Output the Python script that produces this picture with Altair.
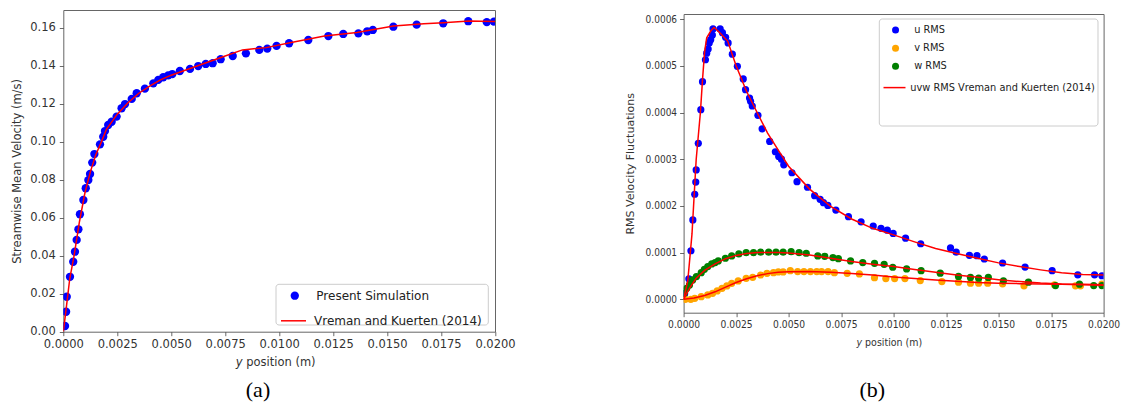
import altair as alt
import pandas as pd

# ---------------- (a) streamwise mean velocity ----------------
sim_pos = [0.00008, 0.00013, 0.00016, 0.00031, 0.00046, 0.00054, 0.00062, 0.00070, 0.00077, 0.00093,
           0.00104, 0.00116, 0.00124, 0.00134, 0.00144, 0.00170, 0.00185, 0.00193, 0.00208, 0.00224,
           0.00247, 0.00270, 0.00286, 0.00317, 0.00340, 0.00378, 0.00417, 0.00440, 0.00463, 0.00486,
           0.00505, 0.00540, 0.00587, 0.00625, 0.00660, 0.00692, 0.00729, 0.00785, 0.00846, 0.00908,
           0.00945, 0.00988, 0.01046, 0.01135, 0.01228, 0.01297, 0.01367, 0.01408, 0.01434, 0.01529,
           0.01637, 0.01760, 0.01876, 0.01962, 0.01995]
sim_vel = [0.0030, 0.0105, 0.0184, 0.0289, 0.0368, 0.0421, 0.0483, 0.0539, 0.0618, 0.0693,
           0.0755, 0.0798, 0.0830, 0.0890, 0.0935, 0.0986, 0.1026, 0.1056, 0.1088, 0.1105,
           0.1132, 0.1176, 0.1198, 0.1225, 0.1255, 0.1279, 0.1307, 0.1325, 0.1339, 0.1349,
           0.1356, 0.1372, 0.1383, 0.1398, 0.1409, 0.1413, 0.1434, 0.1451, 0.1465, 0.1483,
           0.1490, 0.1504, 0.1518, 0.1535, 0.1556, 0.1567, 0.1570, 0.1581, 0.1588, 0.1605,
           0.1616, 0.1623, 0.1634, 0.1629, 0.1632]

vk_pos = [0.0, 0.0001, 0.0003, 0.0005, 0.00075, 0.0010, 0.00125, 0.0015, 0.00175, 0.0020,
          0.0025, 0.0030, 0.0035, 0.0040, 0.0045, 0.0050, 0.0060, 0.0074, 0.0083, 0.0094,
          0.0105, 0.0121, 0.0136, 0.0153, 0.0167, 0.0176, 0.0188, 0.0200]
vk_vel = [0.0, 0.0090, 0.0280, 0.0400, 0.0580, 0.0730, 0.0840, 0.0930, 0.0995, 0.1065,
          0.1145, 0.1205, 0.1255, 0.1292, 0.1325, 0.1350, 0.1390, 0.1447, 0.1483, 0.1495,
          0.1521, 0.1556, 0.1574, 0.1609, 0.1620, 0.1626, 0.1635, 0.1632]

# ---------------- (b) RMS velocity fluctuations ----------------
u_pos = [0.00005, 0.00025, 0.00035, 0.00044, 0.00053, 0.00058, 0.00060, 0.00070, 0.00082, 0.00090,
         0.00104, 0.00110, 0.00117, 0.00122, 0.00129, 0.00137, 0.00140, 0.00174, 0.00185, 0.00200,
         0.00212, 0.00232, 0.00256, 0.00284, 0.00295, 0.00314, 0.00319, 0.00327, 0.00354, 0.00374,
         0.00410, 0.00437, 0.00453, 0.00466, 0.00477, 0.00516, 0.00540, 0.00590, 0.00624, 0.00650,
         0.00666, 0.00687, 0.00725, 0.00785, 0.00845, 0.00903, 0.00940, 0.00970, 0.00998, 0.01057,
         0.01129, 0.01271, 0.01298, 0.01361, 0.01397, 0.01432, 0.01519, 0.01626, 0.01755, 0.01877,
         0.01957, 0.01992]
u_rms = [0.000012, 0.000044, 0.000104, 0.000170, 0.000225, 0.000251, 0.000277, 0.000334, 0.000406, 0.000466,
         0.000513, 0.000527, 0.000536, 0.000549, 0.000556, 0.000566, 0.000579, 0.000579, 0.000571, 0.000561,
         0.000549, 0.000525, 0.000499, 0.000472, 0.000449, 0.000431, 0.000424, 0.000414, 0.000394, 0.000365,
         0.000338, 0.000316, 0.000306, 0.000300, 0.000288, 0.000271, 0.000252, 0.000240, 0.000222, 0.000214,
         0.000207, 0.000201, 0.000191, 0.000177, 0.000166, 0.000157, 0.000152, 0.000148, 0.000141, 0.000131,
         0.000119, 0.000110, 0.000101, 0.0000942, 0.0000935, 0.0000863, 0.0000777, 0.0000691, 0.0000612, 0.0000525,
         0.0000525, 0.0000504]

v_pos = [0.00008, 0.00034, 0.00053, 0.00084, 0.00115, 0.00138, 0.00160, 0.00183, 0.00206, 0.00229,
         0.00260, 0.00298, 0.00329, 0.00367, 0.00397, 0.00428, 0.00451, 0.00474, 0.00508, 0.00543,
         0.00573, 0.00604, 0.00634, 0.00657, 0.00688, 0.00718, 0.00779, 0.00837, 0.00909, 0.00963,
         0.01005, 0.01054, 0.01127, 0.01230, 0.01309, 0.01366, 0.01405, 0.01448, 0.01519, 0.01621,
         0.01766, 0.01866, 0.01890, 0.01992]
v_rms = [0.0, 0.0, 0.0000020, 0.0000057, 0.0000093, 0.0000129, 0.0000179, 0.0000236, 0.0000286, 0.0000343,
         0.0000393, 0.0000450, 0.0000471, 0.0000520, 0.0000557, 0.0000571, 0.0000586, 0.0000586, 0.0000614, 0.0000593,
         0.0000593, 0.0000593, 0.0000593, 0.0000593, 0.0000593, 0.0000571, 0.0000557, 0.0000543, 0.0000464, 0.0000443,
         0.0000443, 0.0000443, 0.0000400, 0.0000379, 0.0000367, 0.0000345, 0.0000345, 0.0000345, 0.0000331, 0.0000288,
         0.0000309, 0.0000288, 0.0000288, 0.0000324]

w_pos = [0.00003, 0.00015, 0.00028, 0.00043, 0.00061, 0.00084, 0.00099, 0.00115, 0.00134, 0.00150,
         0.00165, 0.00199, 0.00229, 0.00263, 0.00298, 0.00333, 0.00367, 0.00405, 0.00440, 0.00474,
         0.00512, 0.00550, 0.00584, 0.00639, 0.00672, 0.00711, 0.00737, 0.00795, 0.00853, 0.00909,
         0.00955, 0.00996, 0.01062, 0.01131, 0.01222, 0.01309, 0.01366, 0.01405, 0.01451, 0.01523,
         0.01642, 0.01771, 0.01885, 0.01953, 0.01992]
w_rms = [0.0000129, 0.0000236, 0.0000307, 0.0000414, 0.0000486, 0.0000571, 0.0000643, 0.0000700, 0.0000757, 0.0000786,
         0.0000821, 0.0000879, 0.0000929, 0.0000971, 0.0001000, 0.0001000, 0.0001010, 0.0001010, 0.0001010, 0.0001010,
         0.0001020, 0.0001000, 0.0000986, 0.0000929, 0.0000921, 0.0000893, 0.0000871, 0.0000821, 0.0000786, 0.0000771,
         0.0000750, 0.0000686, 0.0000650, 0.0000614, 0.0000560, 0.0000489, 0.0000468, 0.0000453, 0.0000468, 0.0000396,
         0.0000367, 0.0000295, 0.0000324, 0.0000295, 0.0000295]

ref_u_pos = [0.0, 0.0002, 0.0004, 0.0005, 0.0006, 0.0008, 0.0009, 0.0010, 0.0011, 0.0013,
             0.00145, 0.0017, 0.0021, 0.0025, 0.0030, 0.0035, 0.0040, 0.0045, 0.0050, 0.0060,
             0.0070, 0.0080, 0.0090, 0.0100, 0.0110, 0.0120, 0.0130, 0.0140, 0.0150, 0.0160,
             0.0170, 0.0180, 0.0190, 0.0200]
ref_u_rms = [0.0, 0.000040, 0.000140, 0.000220, 0.000300, 0.000400, 0.000470, 0.000530, 0.000560, 0.000575,
             0.000582, 0.000572, 0.000553, 0.000500, 0.000445, 0.000400, 0.000356, 0.000320, 0.000285, 0.000236,
             0.000199, 0.000172, 0.000152, 0.000138, 0.000123, 0.000109, 0.000098, 0.000088, 0.000078, 0.000070,
             0.000063, 0.000057, 0.000053, 0.000052]

ref_v_pos = [0.0, 0.0005, 0.0010, 0.0015, 0.0020, 0.0025, 0.0030, 0.0035, 0.0040, 0.0045,
             0.0050, 0.0060, 0.0070, 0.0080, 0.0090, 0.0100, 0.0110, 0.0120, 0.0130, 0.0140,
             0.0150, 0.0160, 0.0170, 0.0180, 0.0190, 0.0200]
ref_v_rms = [0.0, 0.0000030, 0.0000080, 0.0000160, 0.0000260, 0.0000360, 0.0000440, 0.0000505, 0.0000550, 0.0000578,
             0.0000590, 0.0000595, 0.0000580, 0.0000555, 0.0000520, 0.0000480, 0.0000445, 0.0000415, 0.0000385, 0.0000360,
             0.0000345, 0.0000335, 0.0000325, 0.0000320, 0.0000310, 0.0000300]

ref_w_pos = [0.0, 0.0003, 0.0006, 0.0010, 0.0015, 0.0020, 0.0025, 0.0030, 0.0035, 0.0040,
             0.0045, 0.0050, 0.0060, 0.0070, 0.0080, 0.0090, 0.0100, 0.0110, 0.0120, 0.0130,
             0.0140, 0.0150, 0.0160, 0.0170, 0.0180, 0.0190, 0.0200]
ref_w_rms = [0.0, 0.000025, 0.000045, 0.000062, 0.000076, 0.000087, 0.000094, 0.000098, 0.000100, 0.000100,
             0.000100, 0.000099, 0.000095, 0.000088, 0.000081, 0.000075, 0.000070, 0.000064, 0.000058, 0.000052,
             0.000047, 0.000042, 0.000038, 0.000035, 0.000033, 0.000032, 0.000031]

X_TICKS = [0.0, 0.0025, 0.005, 0.0075, 0.01, 0.0125, 0.015, 0.0175, 0.02]
VEL_TICKS = [0.0, 0.02, 0.04, 0.06, 0.08, 0.10, 0.12, 0.14, 0.16]
RMS_TICKS = [0.0, 0.0001, 0.0002, 0.0003, 0.0004, 0.0005, 0.0006]

SIM_LABEL = "Present Simulation"
VK_LABEL = "Vreman and Kuerten (2014)"
RMS_LABELS = ["u RMS", "v RMS", "w RMS"]
RMS_REF_LABEL = "uvw RMS Vreman and Kuerten (2014)"

SANS = "DejaVu Sans"
NARROW = "DejaVu Sans Condensed, Liberation Sans Narrow, DejaVu Sans"
SERIF = "Liberation Serif, Times New Roman, serif"

# ---------------- tables ----------------
left_pts = pd.DataFrame({"pos": sim_pos, "vel": sim_vel, "series": SIM_LABEL})
left_ref = pd.DataFrame({"pos": vk_pos, "vel": vk_vel, "series": VK_LABEL})

right_pts = pd.concat([
    pd.DataFrame({"pos": u_pos, "rms": u_rms, "series": RMS_LABELS[0]}),
    pd.DataFrame({"pos": v_pos, "rms": v_rms, "series": RMS_LABELS[1]}),
    pd.DataFrame({"pos": w_pos, "rms": w_rms, "series": RMS_LABELS[2]}),
], ignore_index=True)
right_ref = pd.concat([
    pd.DataFrame({"pos": ref_u_pos, "rms": ref_u_rms, "comp": "u"}),
    pd.DataFrame({"pos": ref_v_pos, "rms": ref_v_rms, "comp": "v"}),
    pd.DataFrame({"pos": ref_w_pos, "rms": ref_w_rms, "comp": "w"}),
], ignore_index=True)
right_ref["series"] = RMS_REF_LABEL

one_row = alt.Data(values=[{"k": 0}])


def x_axis(font, size):
    return alt.Axis(values=X_TICKS, format=".4f", title=None, grid=False, domain=False,
                    labelFont=font, labelFontSize=size, labelColor="#333333",
                    tickColor="#444444", tickSize=4, tickWidth=0.8, labelPadding=3,
                    labelFlush=False, labelOverlap=False, labelBound=False)


# ---------------- panel (a) ----------------
LW, LH = 431.7, 321.7
lx = alt.X("pos:Q", scale=alt.Scale(domain=[0, 0.02], nice=False, zero=False), axis=x_axis(SANS, 11.5))
ly = alt.Y("vel:Q", scale=alt.Scale(domain=[0, 0.1693], nice=False, zero=False),
           axis=alt.Axis(values=VEL_TICKS, format=".2f", grid=False, domain=False,
                         title="Streamwise Mean Velocity (m/s)", titleFont=SANS, titleFontSize=11.5,
                         titleFontWeight="normal", titleColor="#333333", titleAngle=270,
                         titleAlign="center", titleBaseline="middle", titleX=-46.3, titleY=160.9,
                         labelFont=SANS, labelFontSize=11.5, labelColor="#333333",
                         tickColor="#444444", tickSize=4, tickWidth=0.8, labelPadding=4,
                         labelFlush=False, labelOverlap=False, labelBound=False))

left_frame = alt.Chart(one_row).mark_rect(fill="white", fillOpacity=0.8, stroke="#cccccc",
                                          strokeWidth=1, cornerRadius=3).encode(
    x=alt.value(212.7), x2=alt.value(425.0), y=alt.value(274.3), y2=alt.value(315.0))

left_scatter = alt.Chart(left_pts).mark_circle(size=69, opacity=1, clip=True).encode(
    x=lx, y=ly,
    fill=alt.Fill("series:N", scale=alt.Scale(domain=[SIM_LABEL], range=["#0000ff"]),
                  legend=alt.Legend(orient="none", legendX=225.5, legendY=279.7, title=None,
                                    symbolType="circle", symbolSize=69, symbolStrokeWidth=0,
                                    labelFont=SANS, labelFontSize=12, labelColor="#222222",
                                    labelOffset=15.5, labelLimit=0, padding=0)))

left_line = alt.Chart(left_ref).mark_line(strokeWidth=1.5, clip=True).encode(
    x=lx, y=ly, order="pos:Q",
    stroke=alt.Stroke("series:N", scale=alt.Scale(domain=[VK_LABEL], range=["#ff0000"]),
                      legend=alt.Legend(orient="none", legendX=216.7, legendY=297.3, title=None,
                                        symbolType="stroke", symbolSize=625, symbolStrokeWidth=1.5,
                                        labelFont=SANS, labelFontSize=12, labelColor="#222222",
                                        labelOffset=7, labelLimit=0, padding=0)))

left_xtitle_y = alt.Chart(one_row).mark_text(text="y", font=SANS, fontSize=11.5, fontStyle="italic",
                                             color="#333333", align="left", baseline="middle").encode(
    x=alt.value(172.4), y=alt.value(353.3))
left_xtitle = alt.Chart(one_row).mark_text(text="position (m)", font=SANS, fontSize=11.5,
                                           color="#333333", align="left", baseline="middle").encode(
    x=alt.value(182.9), y=alt.value(353.3))
left_caption = alt.Chart(one_row).mark_text(text="(a)", font=SERIF, fontSize=22, color="#000000",
                                            align="center", baseline="middle").encode(
    x=alt.value(194.7), y=alt.value(380.0))

left = alt.layer(left_frame, left_scatter, left_line, left_xtitle_y, left_xtitle, left_caption).resolve_legend(
    fill="independent", stroke="independent").properties(width=LW, height=LH)

# ---------------- panel (b) ----------------
RW, RH = 420.0, 298.7
rx = alt.X("pos:Q", scale=alt.Scale(domain=[0, 0.02], nice=False, zero=False), axis=x_axis(NARROW, 10.2))
ry = alt.Y("rms:Q", scale=alt.Scale(domain=[-0.0000287, 0.000611], nice=False, zero=False),
           axis=alt.Axis(values=RMS_TICKS, format=".4f", grid=False, domain=False,
                         title="RMS Velocity Fluctuations", titleFont=SANS, titleFontSize=11,
                         titleFontWeight="normal", titleColor="#333333", titleAngle=270,
                         titleAlign="center", titleBaseline="middle", titleX=-53.3, titleY=149.3,
                         labelFont=NARROW, labelFontSize=10, labelColor="#333333",
                         tickColor="#444444", tickSize=4, tickWidth=0.8, labelPadding=3,
                         labelFlush=False, labelOverlap=False, labelBound=False))

right_frame = alt.Chart(one_row).mark_rect(fill="white", fillOpacity=0.8, stroke="#cccccc",
                                           strokeWidth=1, cornerRadius=3).encode(
    x=alt.value(195.7), x2=alt.value(414.4), y=alt.value(5.0), y2=alt.value(112.0))

right_scatter = alt.Chart(right_pts).mark_circle(size=52, opacity=1, clip=True).encode(
    x=rx, y=ry,
    fill=alt.Fill("series:N", scale=alt.Scale(domain=RMS_LABELS, range=["#0000ff", "#ffa500", "#008000"]),
                  legend=alt.Legend(orient="none", legendX=206.5, legendY=10.6, title=None,
                                    symbolType="circle", symbolSize=49, symbolStrokeWidth=0,
                                    labelFont=NARROW, labelFontSize=10.9, labelColor="#222222",
                                    labelOffset=13.2, labelLimit=0, rowPadding=6.1, padding=0)))

right_line = alt.Chart(right_ref).mark_line(strokeWidth=1.5, clip=True).encode(
    x=rx, y=ry, detail="comp:N", order="pos:Q",
    stroke=alt.Stroke("series:N", scale=alt.Scale(domain=[RMS_REF_LABEL], range=["#ff0000"]),
                      legend=alt.Legend(orient="none", legendX=198.9, legendY=61.6, title=None,
                                        symbolType="stroke", symbolSize=484, symbolStrokeWidth=1.5,
                                        labelFont=NARROW, labelFontSize=10.9, labelColor="#222222",
                                        labelOffset=3.8, labelLimit=0, padding=0)))

right_xtitle_y = alt.Chart(one_row).mark_text(text="y", font=NARROW, fontSize=10.5, fontStyle="italic",
                                              color="#333333", align="left", baseline="middle").encode(
    x=alt.value(172.9), y=alt.value(329.3))
right_xtitle = alt.Chart(one_row).mark_text(text="position (m)", font=NARROW, fontSize=10.5,
                                            color="#333333", align="left", baseline="middle").encode(
    x=alt.value(181.5), y=alt.value(329.3))
right_caption = alt.Chart(one_row).mark_text(text="(b)", font=SERIF, fontSize=22, color="#000000",
                                             align="center", baseline="middle").encode(
    x=alt.value(188.7), y=alt.value(376.0))

right = alt.layer(right_frame, right_scatter, right_line, right_xtitle_y, right_xtitle, right_caption).resolve_legend(
    fill="independent", stroke="independent").properties(width=RW, height=RH)

# small invisible strip that lowers panel (b) a little
spacer = alt.Chart(one_row).mark_point(opacity=0).encode(x=alt.value(0), y=alt.value(0)).properties(
    width=1, height=1, view=alt.ViewBackground(strokeOpacity=0))

right_col = alt.vconcat(spacer, right, spacing=3, bounds="flush").resolve_scale(
    fill="independent", stroke="independent").resolve_legend(fill="independent", stroke="independent")

chart = alt.hconcat(left, right_col, spacing=188.3, bounds="flush").resolve_scale(
    x="independent", y="independent", fill="independent", stroke="independent"
).resolve_legend(fill="independent", stroke="independent").properties(
    padding={"left": 63.3, "top": 10, "right": 1076.7, "bottom": 394},
    autosize=alt.AutoSizeParams(type="none"),
    background="white",
).configure_view(stroke="#666666", strokeWidth=1)

chart.save("out.html", embed_options={"renderer": "svg", "actions": False})
